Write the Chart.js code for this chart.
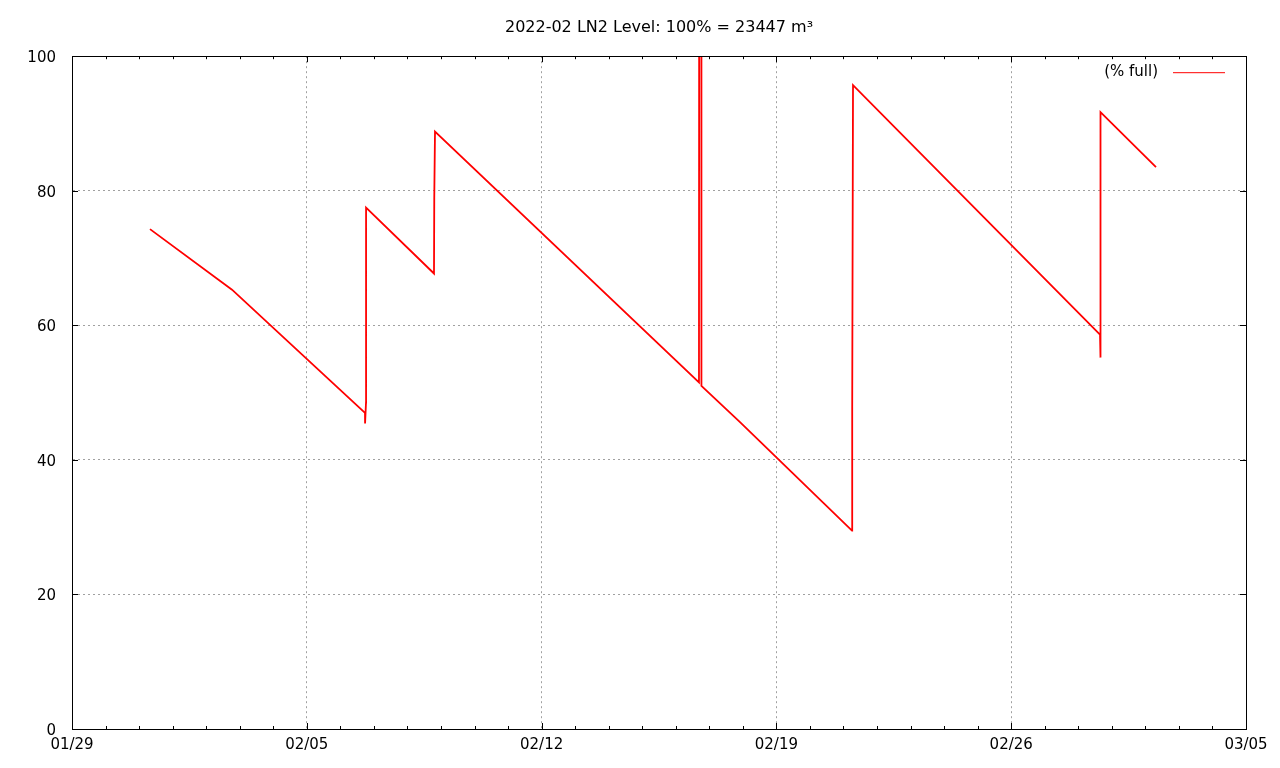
<!DOCTYPE html>
<html>
<head>
<meta charset="utf-8">
<script src="https://cdn.jsdelivr.net/npm/chart.js@4/dist/chart.umd.min.js"></script>
<style>
  html, body { margin: 0; padding: 0; background: #fff; }
  #wrap { width: 1280px; height: 768px; position: relative; }
</style>
</head>
<body>
<div id="wrap"><canvas id="chart"></canvas></div>
<script>
// days since 2022-01-29 00:00
const days = [2.325, 4.77, 8.735, 8.737, 8.765, 8.767, 10.792, 10.80, 10.822, 18.692, 18.70, 18.76, 18.765, 19.915, 23.254, 23.26, 23.284, 30.648, 30.65, 30.66, 30.677, 32.317];
// LN2 level, % full
const levels = [74.3, 65.3, 47.0, 45.4, 48.5, 77.5, 67.7, 78.9, 88.8, 51.5, 140, 140, 51.0, 45.6, 29.5, 47.8, 95.7, 58.6, 55.2, 88.4, 91.7, 83.5];

const xTickLabels = ['01/29', '02/05', '02/12', '02/19', '02/26', '03/05'];
const yTicks = [0, 20, 40, 60, 80, 100];

const FONT = "'DejaVu Sans', sans-serif";

// gnuplot-like frame, inward ticks and key in the top right corner
const framePlugin = {
    id: 'frame',
    afterDraw(chart) {
        const { ctx, chartArea: a, scales } = chart;
        ctx.save();
        ctx.strokeStyle = '#000';
        ctx.lineWidth = 1;
        ctx.strokeRect(Math.round(a.left) + 0.5, Math.round(a.top) + 0.5,
            Math.round(a.right - a.left), Math.round(a.bottom - a.top));
        ctx.beginPath();
        for (let d = 0; d <= 35; d++) {
            const x = Math.round(scales.x.getPixelForValue(d)) + 0.5;
            const len = d % 7 === 0 ? 6 : 3;
            ctx.moveTo(x, a.bottom); ctx.lineTo(x, a.bottom - len);
            ctx.moveTo(x, a.top); ctx.lineTo(x, a.top + len);
        }
        yTicks.forEach(v => {
            const y = Math.round(scales.y.getPixelForValue(v)) + 0.5;
            ctx.moveTo(a.left, y); ctx.lineTo(a.left + 6, y);
            ctx.moveTo(a.right, y); ctx.lineTo(a.right - 6, y);
        });
        ctx.stroke();

        // key
        const ds = chart.data.datasets[0];
        const ky = a.top + 16;
        ctx.fillStyle = '#000';
        ctx.font = '15px ' + FONT;
        ctx.textAlign = 'right';
        ctx.textBaseline = 'middle';
        ctx.fillText(ds.label, a.right - 88, ky);
        ctx.strokeStyle = ds.borderColor;
        ctx.beginPath();
        ctx.moveTo(a.right - 73, ky + 0.5);
        ctx.lineTo(a.right - 21, ky + 0.5);
        ctx.stroke();
        ctx.restore();
    }
};

new Chart(document.getElementById('chart'), {
    type: 'line',
    data: {
        datasets: [{
            label: '(% full)',
            data: days.map((d, i) => ({ x: d, y: levels[i] })),
            borderColor: '#ff0000',
            backgroundColor: '#ff0000',
            borderWidth: 1.8,
            pointRadius: 0,
            tension: 0,
            fill: false
        }]
    },
    options: {
        responsive: true,
        maintainAspectRatio: false,
        animation: false,
        layout: { padding: { left: 0, right: 34, top: 0, bottom: 0 } },
        plugins: {
            title: {
                display: true,
                fullSize: false,
                text: '2022-02 LN2 Level: 100% = 23447 m³',
                color: '#000',
                font: { family: FONT, size: 16, weight: 'normal' },
                padding: { top: 18, bottom: 19 }
            },
            legend: { display: false },
            tooltip: { enabled: false }
        },
        scales: {
            x: {
                type: 'linear',
                min: 0,
                max: 35,
                afterFit: s => { s.height = 39; },
                ticks: {
                    stepSize: 1,
                    autoSkip: false,
                    maxRotation: 0,
                    padding: 7,
                    color: '#000',
                    font: { family: FONT, size: 15 },
                    callback: v => (v % 7 === 0 ? xTickLabels[v / 7] : '')
                },
                grid: {
                    drawTicks: false,
                    color: c => (c.tick && c.tick.value % 7 === 0 && c.tick.value > 0 && c.tick.value < 35) ? '#a0a0a0' : 'rgba(0,0,0,0)'
                },
                border: { display: true, color: '#000', dash: [2, 3] }
            },
            y: {
                min: 0,
                max: 100,
                afterFit: s => { s.width = 72; },
                ticks: {
                    stepSize: 20,
                    padding: 16,
                    labelOffset: 2,
                    color: '#000',
                    font: { family: FONT, size: 15 }
                },
                grid: {
                    drawTicks: false,
                    color: c => (c.tick && c.tick.value > 0 && c.tick.value < 100) ? '#a0a0a0' : 'rgba(0,0,0,0)'
                },
                border: { display: true, color: '#000', dash: [2, 3] }
            }
        }
    },
    plugins: [framePlugin]
});
</script>
</body>
</html>
